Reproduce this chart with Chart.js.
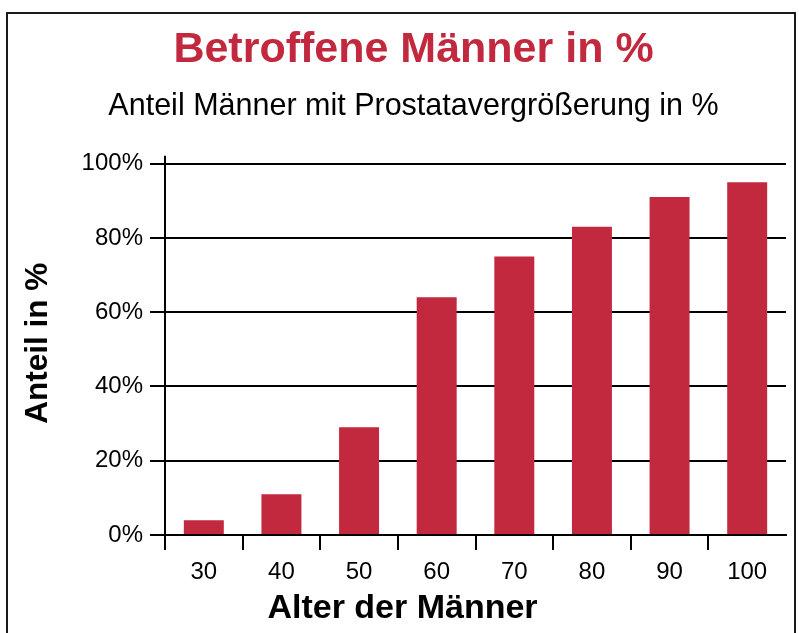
<!DOCTYPE html>
<html>
<head>
<meta charset="utf-8">
<script src="https://cdn.jsdelivr.net/npm/chart.js@4/dist/chart.umd.min.js"></script>
<style>
  html, body { margin: 0; padding: 0; background: #fff; overflow: hidden; }
  #wrap { position: relative; width: 799px; height: 633px; }
  #frame { position: absolute; left: 6px; top: 12px; width: 790px; height: 700px; border: 2px solid #1a1a1a; box-sizing: border-box; }
  canvas { position: absolute; left: 0; top: 0; }
</style>
</head>
<body>
<div id="wrap">
  <div id="frame"></div>
  <canvas id="c" width="799" height="633"></canvas>
</div>
<script>
const categories = ['30', '40', '50', '60', '70', '80', '90', '100'];
const shareValues = [4, 11, 29, 64, 75, 83, 91, 95];
const yTickValues = [0, 20, 40, 60, 80, 100];

const titleText = 'Betroffene Männer in %';
const subtitleText = 'Anteil Männer mit Prostatavergrößerung in %';
const yTitleText = 'Anteil in %';
const xTitleText = 'Alter der Männer';

const RED = '#c2293e';
const FONT = "'Liberation Sans', Arial, sans-serif";

function shiftTitle(scale, dx, dy) {
  if (scale._shiftPatched) return;
  const orig = scale.drawTitle;
  scale.drawTitle = function () {
    this.ctx.save();
    this.ctx.translate(dx, dy);
    orig.call(this);
    this.ctx.restore();
  };
  scale._shiftPatched = true;
}

// decoration: short extension of the y axis line above the top gridline,
// and offsets of the axis titles as in the reference layout
const axisExtras = {
  id: 'axisExtras',
  afterLayout(chart) {
    shiftTitle(chart.scales.x, -73, 0);
    shiftTitle(chart.scales.y, 0, -6);
  },
  afterDraw(chart) {
    const ctx = chart.ctx;
    const y = chart.scales.y;
    ctx.save();
    ctx.strokeStyle = '#000';
    ctx.lineWidth = 2;
    ctx.beginPath();
    ctx.moveTo(y.right, chart.chartArea.top - 8);
    ctx.lineTo(y.right, chart.chartArea.top);
    ctx.stroke();
    ctx.restore();
  }
};

new Chart(document.getElementById('c'), {
  type: 'bar',
  data: {
    labels: categories,
    datasets: [{
      data: shareValues,
      backgroundColor: RED,
      borderWidth: 0,
      barPercentage: 0.515,
      categoryPercentage: 1
    }]
  },
  options: {
    responsive: false,
    devicePixelRatio: 1,
    animation: false,
    layout: { padding: { left: 41, right: 13, top: 0, bottom: 0 } },
    plugins: {
      legend: { display: false },
      tooltip: { enabled: false },
      title: {
        display: true,
        text: titleText,
        color: RED,
        font: { family: FONT, size: 43, weight: 'bold', lineHeight: 1.2 },
        padding: { top: 24.5, bottom: 0 }
      },
      subtitle: {
        display: true,
        text: subtitleText,
        color: '#000',
        font: { family: FONT, size: 30.5, weight: 'normal', lineHeight: 1.2 },
        padding: { top: 12.5, bottom: 38.5 }
      }
    },
    scales: {
      x: {
        afterFit(scale) { scale.height = 98; },
        grid: {
          display: true,
          drawOnChartArea: false,
          drawTicks: true,
          tickLength: 15,
          lineWidth: 2,
          offset: true,
          color: (ctx) => (ctx.index === undefined ? 'rgba(0,0,0,0)' : '#000')
        },
        border: { display: true, color: '#000', width: 2 },
        ticks: {
          color: '#000',
          font: { family: FONT, size: 24 },
          padding: 8
        },
        title: {
          display: true,
          text: xTitleText,
          color: '#000',
          font: { family: FONT, size: 34, weight: 'bold', lineHeight: 1.2 },
          padding: { top: 0, bottom: 3.5 }
        }
      },
      y: {
        min: 0,
        max: 100,
        afterFit(scale) { scale.width = 124; },
        afterBuildTicks(scale) { scale.ticks = yTickValues.map(v => ({ value: v })); },
        grid: {
          color: '#000',
          lineWidth: 2,
          tickLength: 15,
          drawTicks: true
        },
        border: { display: true, color: '#000', width: 2 },
        ticks: {
          color: '#000',
          font: { family: FONT, size: 24 },
          padding: 7,
          callback: (v) => v + '%'
        },
        title: {
          display: true,
          text: yTitleText,
          color: '#000',
          font: { family: FONT, size: 31.5, weight: 'bold', lineHeight: 1 },
          padding: { top: -18.5, bottom: 0 }
        }
      }
    }
  },
  plugins: [axisExtras]
});
</script>
</body>
</html>
